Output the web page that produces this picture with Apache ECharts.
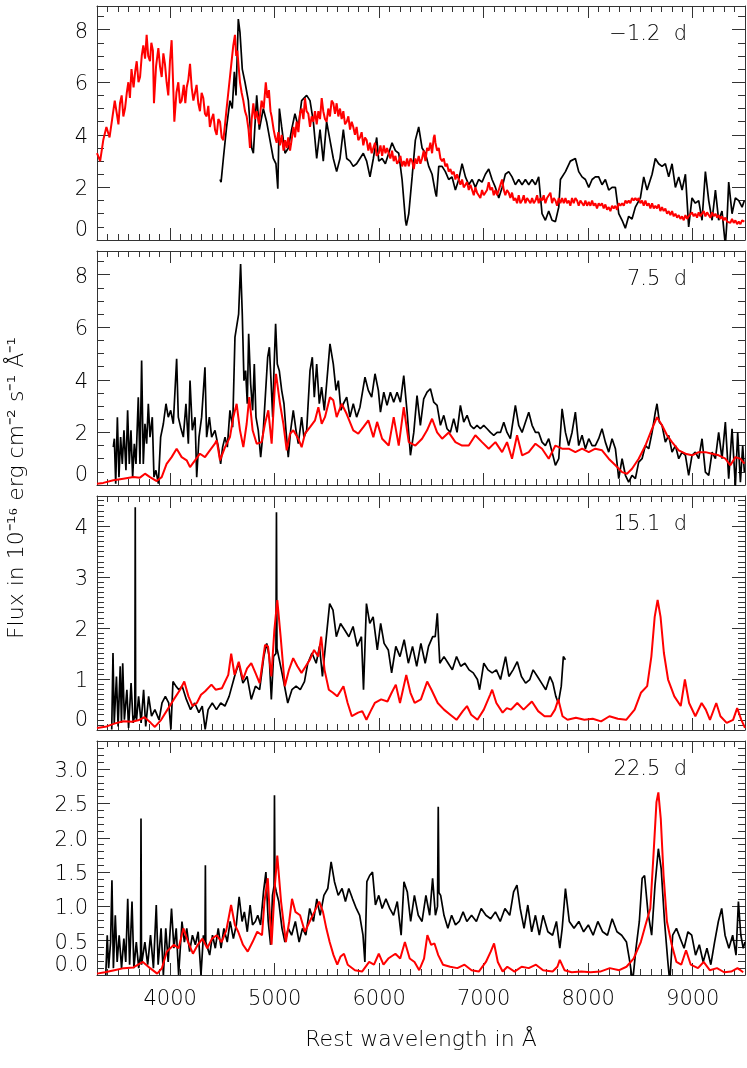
<!DOCTYPE html>
<html><head><meta charset="utf-8">
<script src="https://cdn.jsdelivr.net/npm/echarts@6/dist/echarts.min.js"></script>
<style>html,body{margin:0;padding:0;background:#fff}#c{width:747px;height:1068px}</style>
</head><body><div id="c"></div>
<script>
// ---------- axis / label data ----------
const xMin = 3300, xMax = 9500;
const xMajorTicks = [4000, 5000, 6000, 7000, 8000, 9000];
const xMinorStep = 100;
const epochLabels = ['\u22121.2  d', '7.5  d', '15.1  d', '22.5  d'];
const yMaxes = [8.9, 8.9, 4.59, 3.41];
const yMajorTicks = [[0, 2, 4, 6, 8], [0, 2, 4, 6, 8], [0, 1, 2, 3, 4], [0, 0.5, 1, 1.5, 2, 2.5, 3]];
const yMinorSteps = [0.5, 0.5, 0.1, 0.1];
const yDecimals = [0, 0, 0, 1];
const xTitle = 'Rest wavelength in \u00C5';
const yTitle = 'Flux in 10\u207B\u00B9\u2076 erg cm\u207B\u00B2 s\u207B\u00B9 \u00C5\u207B\u00B9';

// ---------- spectra: [wavelength (Å), flux] ----------
const p1Red = [[3300,3.3],[3330,3.0],[3360,3.8],[3390,4.3],[3420,3.9],[3445,4.6],[3470,5.3],[3490,4.8],[3505,4.4],[3520,5.2],[3536,5.5],[3552,4.7],[3568,5.0],[3585,5.6],[3600,6.0],[3615,5.4],[3630,6.5],[3650,5.8],[3665,6.4],[3680,6.8],[3697,6.0],[3712,6.2],[3728,7.0],[3743,7.4],[3760,6.9],[3775,7.8],[3790,7.0],[3807,6.8],[3820,7.5],[3835,7.2],[3845,5.2],[3865,6.6],[3887,7.3],[3903,6.6],[3919,6.2],[3935,7.1],[3950,6.7],[3966,6.0],[3982,5.5],[3998,6.8],[4014,7.6],[4028,6.0],[4040,4.5],[4060,5.6],[4078,6.0],[4094,5.2],[4110,5.3],[4130,5.9],[4145,5.2],[4158,5.8],[4174,6.1],[4190,6.7],[4206,5.8],[4222,5.3],[4238,5.6],[4253,5.9],[4269,5.2],[4285,4.9],[4301,5.6],[4317,5.4],[4333,4.8],[4349,4.7],[4365,5.1],[4380,4.3],[4397,4.6],[4413,4.8],[4429,4.2],[4445,4.0],[4461,4.6],[4477,4.5],[4493,3.9],[4509,3.8],[4525,4.4],[4540,5.0],[4556,5.6],[4572,6.2],[4588,6.8],[4604,7.4],[4620,7.8],[4632,7.0],[4643,7.2],[4655,6.6],[4668,6.0],[4684,5.6],[4700,5.3],[4716,4.9],[4732,4.7],[4750,4.2],[4764,3.5],[4780,4.6],[4796,5.2],[4812,4.6],[4828,4.9],[4850,4.4],[4875,5.3],[4895,5.0],[4915,6.0],[4930,5.4],[4945,5.7],[4960,4.9],[4971,4.7],[4990,4.2],[5005,3.9],[5019,3.7],[5035,4.1],[5050,3.6],[5067,4.0],[5085,3.4],[5100,3.8],[5115,3.5],[5130,3.9],[5147,3.4],[5162,3.8],[5180,4.3],[5195,3.9],[5210,4.5],[5227,4.1],[5242,4.8],[5258,5.0],[5275,4.6],[5290,5.4],[5305,4.9],[5322,4.8],[5338,4.3],[5354,4.7],[5370,4.5],[5386,4.9],[5402,4.4],[5418,4.9],[5434,4.6],[5450,5.4],[5465,4.9],[5481,4.6],[5497,4.5],[5513,5.0],[5529,4.7],[5545,5.3],[5561,5.2],[5577,4.8],[5593,5.2],[5609,4.7],[5625,5.0],[5641,4.6],[5657,4.9],[5673,4.4],[5689,4.5],[5705,4.7],[5721,4.2],[5737,4.5],[5752,4.3],[5768,4.0],[5784,4.3],[5800,3.8],[5816,3.9],[5832,4.1],[5848,3.6],[5864,3.9],[5880,3.8],[5896,3.4],[5912,3.7],[5928,3.3],[5944,3.5],[5960,3.7],[5976,3.2],[5996,3.3],[6012,3.6],[6028,3.2],[6044,3.6],[6060,3.3],[6075,3.5],[6091,3.5],[6107,3.1],[6123,3.4],[6139,3.0],[6155,3.2],[6171,2.9],[6187,3.0],[6203,3.2],[6219,2.8],[6235,3.0],[6251,2.8],[6267,3.1],[6283,2.8],[6299,3.1],[6315,3.0],[6331,2.7],[6346,3.1],[6362,2.9],[6378,3.2],[6394,2.9],[6410,3.1],[6426,3.4],[6442,3.0],[6458,3.5],[6474,3.4],[6490,3.7],[6506,3.3],[6522,3.9],[6530,4.0],[6538,3.7],[6554,3.4],[6570,3.5],[6586,3.1],[6602,3.0],[6618,3.1],[6633,2.8],[6649,2.9],[6665,2.6],[6681,2.7],[6697,2.5],[6713,2.6],[6729,2.3],[6745,2.5],[6761,2.3],[6777,2.1],[6793,2.3],[6809,2.0],[6825,2.0],[6841,2.2],[6857,1.9],[6873,2.1],[6889,1.9],[6905,1.7],[6920,2.0],[6936,1.8],[6952,1.8],[6968,1.6],[6984,1.9],[7000,1.7],[7016,1.7],[7032,1.9],[7048,2.2],[7064,1.9],[7080,2.0],[7096,1.7],[7112,1.9],[7128,1.7],[7144,1.9],[7160,2.1],[7176,2.3],[7192,1.9],[7207,1.7],[7223,1.9],[7239,1.8],[7255,1.6],[7271,1.8],[7287,1.5],[7303,1.6],[7319,1.4],[7335,1.7],[7351,1.4],[7367,1.5],[7383,1.7],[7399,1.4],[7415,1.6],[7431,1.6],[7447,1.4],[7463,1.6],[7479,1.4],[7495,1.5],[7511,1.7],[7526,1.4],[7542,1.6],[7558,1.5],[7574,1.7],[7590,1.4],[7606,1.6],[7622,1.6],[7638,1.8],[7654,1.4],[7670,1.6],[7686,1.5],[7702,1.3],[7718,1.6],[7734,1.4],[7750,1.6],[7766,1.4],[7782,1.6],[7797,1.4],[7813,1.5],[7829,1.3],[7845,1.6],[7861,1.4],[7877,1.6],[7893,1.5],[7909,1.3],[7925,1.5],[7941,1.5],[7957,1.3],[7973,1.5],[7989,1.3],[8005,1.45],[8021,1.3],[8037,1.5],[8052,1.3],[8068,1.4],[8084,1.2],[8100,1.4],[8116,1.3],[8132,1.4],[8148,1.2],[8164,1.35],[8180,1.15],[8196,1.25],[8212,1.1],[8228,1.3],[8244,1.2],[8260,1.3],[8276,1.15],[8292,1.4],[8308,1.3],[8324,1.4],[8340,1.3],[8356,1.5],[8371,1.4],[8387,1.5],[8403,1.4],[8419,1.6],[8435,1.5],[8451,1.6],[8467,1.5],[8483,1.6],[8499,1.4],[8515,1.5],[8531,1.3],[8547,1.5],[8563,1.3],[8579,1.4],[8595,1.2],[8611,1.4],[8627,1.2],[8642,1.3],[8658,1.2],[8674,1.35],[8690,1.1],[8706,1.25],[8722,1.1],[8738,1.2],[8754,1.0],[8770,1.1],[8786,0.95],[8802,1.1],[8818,0.9],[8834,1.0],[8850,0.85],[8866,0.95],[8882,0.8],[8898,0.9],[8914,0.75],[8930,0.95],[8946,0.8],[8961,0.9],[8977,0.85],[8993,1.05],[9009,0.9],[9025,1.0],[9041,0.85],[9057,1.05],[9073,0.9],[9089,0.95],[9105,1.1],[9121,0.9],[9137,1.05],[9153,1.0],[9169,0.85],[9185,1.05],[9201,0.9],[9217,1.0],[9233,0.85],[9248,0.95],[9264,0.8],[9280,0.9],[9296,0.75],[9312,0.85],[9328,0.7],[9344,0.75],[9360,0.65],[9376,0.8],[9392,0.65],[9408,0.75],[9424,0.6],[9440,0.7],[9456,0.6],[9472,0.75],[9494,0.7]];

const p1Black = [[4477,2.3],[4487,2.2],[4509,3.1],[4540,4.3],[4572,5.3],[4594,5.0],[4614,6.4],[4630,5.5],[4652,8.4],[4668,7.9],[4690,6.5],[4716,6.0],[4748,5.3],[4780,3.5],[4796,3.3],[4828,5.5],[4853,4.2],[4891,5.0],[4923,4.5],[4955,3.8],[4987,3.1],[5012,2.9],[5030,1.95],[5045,5.0],[5067,4.3],[5099,3.3],[5131,3.5],[5162,4.2],[5194,4.8],[5226,4.3],[5258,5.3],[5306,5.5],[5338,5.3],[5370,4.5],[5402,3.1],[5434,4.2],[5465,3.0],[5497,4.5],[5529,3.8],[5561,3.1],[5593,2.6],[5625,3.1],[5657,4.2],[5689,3.1],[5721,3.0],[5752,2.8],[5784,2.9],[5816,3.1],[5848,3.3],[5880,3.0],[5912,2.4],[5944,3.1],[5976,3.9],[5996,3.0],[6028,3.1],[6059,2.9],[6091,3.3],[6123,3.7],[6155,3.4],[6187,3.3],[6219,2.3],[6251,0.75],[6260,0.55],[6283,1.0],[6315,2.4],[6346,3.8],[6378,4.3],[6410,3.5],[6442,3.3],[6474,2.8],[6506,2.5],[6538,1.8],[6548,1.65],[6570,2.8],[6602,2.8],[6633,2.6],[6665,2.3],[6697,2.4],[6729,1.9],[6761,2.3],[6793,2.9],[6825,2.4],[6857,2.1],[6889,2.3],[6920,2.0],[6952,2.3],[6984,2.2],[7016,2.5],[7048,2.7],[7080,2.3],[7112,2.0],[7144,1.6],[7176,2.0],[7207,2.5],[7239,2.6],[7271,2.4],[7303,2.1],[7335,2.3],[7367,2.1],[7399,2.3],[7431,2.1],[7463,2.3],[7495,2.1],[7526,2.4],[7558,1.0],[7590,0.75],[7622,1.1],[7654,0.75],[7686,0.7],[7718,1.25],[7734,2.3],[7782,2.6],[7829,3.0],[7877,3.1],[7909,2.6],[7941,2.4],[7973,2.3],[8005,2.0],[8037,2.3],[8068,2.4],[8100,2.4],[8132,2.1],[8164,2.3],[8196,1.9],[8228,2.0],[8260,2.0],[8292,1.0],[8324,0.75],[8355,0.45],[8387,0.9],[8419,0.8],[8451,1.25],[8499,1.6],[8531,2.4],[8563,1.9],[8611,2.5],[8642,3.1],[8674,2.9],[8706,2.8],[8738,2.9],[8770,2.4],[8802,2.9],[8834,2.0],[8866,2.4],[8898,1.9],[8930,2.5],[8961,0.5],[8993,1.6],[9025,1.4],[9057,1.5],[9089,0.75],[9121,2.6],[9153,1.5],[9185,0.75],[9217,1.9],[9248,0.75],[9280,1.1],[9312,-0.2],[9328,0.75],[9344,2.2],[9376,1.0],[9408,1.6],[9440,1.5],[9472,1.25],[9494,1.5]];

const p2Red = [[3300,0.05],[3360,0.08],[3456,0.18],[3552,0.24],[3648,0.3],[3711,0.28],[3759,0.43],[3807,0.3],[3871,0.15],[3887,0.1],[3919,0.3],[3966,0.8],[4014,1.06],[4062,1.38],[4110,1.06],[4158,0.94],[4190,0.68],[4238,0.94],[4285,1.19],[4333,1.06],[4380,1.32],[4428,1.57],[4445,1.7],[4477,0.94],[4525,1.44],[4572,1.82],[4604,2.58],[4636,3.09],[4668,2.08],[4700,1.44],[4732,2.33],[4757,3.34],[4789,2.08],[4828,1.57],[4875,1.63],[4907,2.33],[4939,2.84],[4971,1.57],[5003,3.85],[5013,4.23],[5051,3.09],[5083,2.33],[5115,1.32],[5147,1.95],[5178,2.08],[5226,1.76],[5258,1.44],[5290,1.95],[5338,2.2],[5386,2.46],[5418,2.96],[5450,2.33],[5481,2.58],[5529,3.34],[5561,3.22],[5593,2.58],[5641,3.09],[5689,2.7],[5752,2.08],[5800,1.95],[5848,2.2],[5896,2.46],[5944,1.82],[5980,2.4],[6028,1.76],[6091,1.5],[6139,2.58],[6187,1.5],[6235,2.96],[6283,1.63],[6346,1.5],[6410,1.76],[6458,2.08],[6506,2.52],[6554,2.0],[6602,1.76],[6665,2.0],[6729,1.63],[6793,1.5],[6857,1.5],[6920,1.89],[6984,1.63],[7048,1.38],[7112,1.63],[7176,1.25],[7223,1.63],[7271,1.0],[7319,1.89],[7367,1.13],[7431,1.25],[7495,1.57],[7558,1.38],[7622,1.0],[7686,1.5],[7750,1.38],[7813,1.38],[7877,1.25],[7941,1.38],[8005,1.25],[8068,1.38],[8132,1.32],[8196,1.0],[8260,0.75],[8324,0.49],[8371,0.43],[8419,0.62],[8483,1.0],[8547,1.5],[8611,2.14],[8658,2.58],[8706,2.27],[8754,1.89],[8802,1.63],[8866,1.32],[8930,1.19],[8993,1.13],[9057,1.25],[9121,1.25],[9185,1.19],[9248,1.13],[9312,1.0],[9360,0.75],[9408,1.06],[9456,1.0],[9494,0.81]];

const p2Black = [[3456,1.44],[3466,1.76],[3479,0.05],[3495,2.58],[3510,0.3],[3526,1.82],[3542,0.8],[3558,2.08],[3577,0.56],[3593,2.84],[3609,0.8],[3625,2.08],[3641,0.3],[3657,1.57],[3673,0.8],[3695,3.34],[3711,0.8],[3727,4.73],[3743,0.8],[3759,2.33],[3775,1.57],[3791,3.09],[3807,1.82],[3829,2.58],[3845,0.3],[3864,0.56],[3887,0.05],[3909,1.82],[3935,2.33],[3960,3.09],[3982,2.58],[4005,2.84],[4030,2.33],[4062,4.8],[4078,2.58],[4100,2.2],[4126,1.82],[4151,3.09],[4174,1.57],[4190,3.97],[4212,2.08],[4238,2.58],[4254,0.3],[4276,1.82],[4301,2.58],[4333,4.48],[4349,1.82],[4375,2.58],[4397,1.82],[4429,2.08],[4461,1.44],[4483,0.8],[4502,1.44],[4525,1.82],[4547,1.44],[4572,2.84],[4598,2.2],[4620,5.62],[4636,5.62],[4655,6.5],[4674,8.4],[4690,6.5],[4706,3.97],[4722,4.35],[4738,3.09],[4751,5.75],[4770,3.85],[4789,2.84],[4805,4.6],[4821,2.58],[4843,2.08],[4866,1.06],[4891,2.08],[4914,3.6],[4933,4.86],[4949,5.24],[4965,3.97],[4981,2.58],[4993,4.35],[5009,6.13],[5025,4.6],[5044,4.35],[5067,3.6],[5089,3.09],[5108,2.08],[5130,1.06],[5153,2.08],[5178,2.84],[5204,2.08],[5226,1.57],[5258,2.58],[5280,1.82],[5306,2.08],[5338,4.35],[5360,4.86],[5379,3.34],[5402,4.6],[5427,3.09],[5449,3.72],[5475,2.84],[5497,3.85],[5529,5.37],[5561,4.6],[5587,3.6],[5609,3.97],[5634,2.84],[5657,3.09],[5689,3.34],[5720,2.58],[5752,3.09],[5784,2.58],[5816,2.96],[5864,4.1],[5896,3.6],[5928,3.34],[5960,4.23],[5992,3.6],[6012,2.77],[6044,3.53],[6075,3.03],[6107,3.53],[6139,3.15],[6171,3.53],[6203,3.15],[6235,4.16],[6267,2.77],[6299,1.13],[6331,2.0],[6362,3.4],[6394,2.27],[6426,3.28],[6458,3.53],[6490,3.66],[6522,3.15],[6554,3.03],[6586,2.27],[6618,2.65],[6649,2.14],[6681,2.0],[6713,2.52],[6745,2.0],[6777,3.03],[6809,2.39],[6841,2.65],[6873,2.27],[6905,2.14],[6936,2.27],[6968,2.14],[7000,2.27],[7032,2.14],[7064,2.0],[7096,1.89],[7128,2.0],[7160,2.0],[7192,2.39],[7223,2.0],[7255,1.76],[7303,3.03],[7335,2.27],[7367,2.0],[7399,2.39],[7431,2.77],[7463,2.27],[7495,2.0],[7526,2.0],[7558,1.63],[7590,1.5],[7622,1.76],[7654,1.25],[7686,0.75],[7718,1.0],[7750,2.9],[7782,2.0],[7813,1.5],[7845,2.0],[7877,2.77],[7909,1.5],[7941,1.89],[7973,1.38],[8005,1.76],[8037,1.5],[8068,1.5],[8100,1.76],[8132,2.14],[8164,1.63],[8196,1.25],[8228,1.76],[8260,1.38],[8292,0.24],[8324,1.0],[8356,0.37],[8387,0.11],[8419,0.37],[8451,0.24],[8483,0.87],[8515,1.0],[8547,1.5],[8579,1.38],[8611,2.0],[8642,2.77],[8658,3.09],[8681,2.39],[8706,2.27],[8738,1.63],[8770,1.89],[8802,1.25],[8834,1.5],[8866,1.0],[8898,1.25],[8930,1.13],[8961,0.37],[8993,1.13],[9025,1.25],[9057,1.0],[9089,1.76],[9121,0.49],[9153,0.37],[9185,1.25],[9217,1.0],[9248,2.0],[9280,1.0],[9312,2.39],[9344,0.24],[9376,2.14],[9408,-0.05],[9430,2.0],[9456,0.11],[9478,1.5],[9494,0.49]];

const p3Red = [[3300,0.04],[3393,0.07],[3473,0.13],[3554,0.17],[3634,0.16],[3694,0.19],[3754,0.25],[3814,0.14],[3854,0.06],[3914,0.2],[3974,0.4],[4035,0.6],[4095,0.79],[4135,0.95],[4175,0.66],[4215,0.47],[4255,0.53],[4295,0.69],[4335,0.76],[4395,0.89],[4435,0.79],[4495,0.82],[4556,1.08],[4584,1.5],[4616,1.08],[4656,1.34],[4696,0.99],[4736,1.21],[4776,1.31],[4816,1.12],[4856,0.92],[4908,1.67],[4936,1.64],[4968,1.05],[4997,1.96],[5025,2.55],[5057,1.83],[5097,0.86],[5137,1.18],[5177,1.41],[5217,1.25],[5257,1.12],[5297,1.25],[5337,1.38],[5377,1.57],[5417,1.44],[5445,1.83],[5477,1.18],[5518,0.79],[5558,0.73],[5598,0.66],[5658,0.86],[5698,0.53],[5738,0.27],[5798,0.34],[5838,0.37],[5878,0.2],[5918,0.37],[5958,0.53],[6019,0.6],[6079,0.56],[6119,0.73],[6159,0.89],[6199,0.53],[6259,1.08],[6299,0.73],[6339,0.53],[6399,0.6],[6459,0.95],[6500,0.79],[6560,0.53],[6620,0.4],[6680,0.3],[6740,0.2],[6800,0.37],[6840,0.47],[6880,0.3],[6940,0.2],[7001,0.4],[7061,0.69],[7081,0.79],[7121,0.53],[7181,0.34],[7221,0.43],[7261,0.4],[7321,0.53],[7381,0.4],[7461,0.56],[7521,0.37],[7582,0.27],[7642,0.27],[7682,0.4],[7714,0.6],[7754,0.27],[7802,0.2],[7882,0.24],[7963,0.2],[8043,0.22],[8123,0.17],[8203,0.27],[8283,0.22],[8363,0.2],[8444,0.4],[8504,0.73],[8564,0.86],[8604,1.44],[8636,2.22],[8664,2.55],[8692,2.22],[8724,1.51],[8764,0.99],[8824,0.66],[8885,0.47],[8925,0.99],[8965,0.53],[9025,0.27],[9085,0.53],[9125,0.4],[9165,0.2],[9225,0.53],[9265,0.27],[9325,0.14],[9386,0.2],[9425,0.43],[9465,0.2],[9500,0.04]];

const p3Black = [[3441,0.01],[3453,1.51],[3465,0.14],[3486,1.05],[3502,0.07],[3522,1.25],[3534,0.14],[3546,1.31],[3562,0.2],[3586,0.79],[3602,0.04],[3626,0.92],[3646,0.14],[3662,0.3],[3666,4.37],[3670,0.3],[3678,0.2],[3698,0.66],[3722,0.14],[3746,0.79],[3766,0.07],[3794,0.66],[3822,0.27],[3854,0.4],[3894,0.2],[3922,0.53],[3954,0.66],[3986,0.53],[4007,0.01],[4027,0.95],[4055,0.86],[4083,0.79],[4115,0.86],[4155,0.6],[4195,0.4],[4235,0.53],[4275,0.34],[4307,0.47],[4335,0.01],[4363,0.4],[4403,0.53],[4443,0.4],[4484,0.53],[4524,0.47],[4564,0.66],[4616,1.05],[4656,1.31],[4696,0.92],[4736,1.05],[4776,0.6],[4816,0.86],[4856,0.79],[4896,1.44],[4924,1.7],[4948,1.44],[4968,0.6],[4989,1.44],[5012,1.5],[5017,4.27],[5022,1.6],[5037,1.57],[5077,1.05],[5125,0.53],[5165,0.79],[5205,0.86],[5245,0.79],[5285,0.95],[5317,1.31],[5357,1.51],[5397,1.31],[5429,1.64],[5457,1.05],[5485,1.64],[5526,2.48],[5558,2.35],[5590,1.83],[5630,2.09],[5670,1.96],[5710,1.83],[5750,2.03],[5790,1.64],[5830,1.83],[5850,0.79],[5878,2.48],[5910,2.09],[5942,2.22],[5982,1.57],[6014,2.09],[6047,1.7],[6087,1.57],[6119,1.12],[6159,1.64],[6199,1.44],[6239,1.77],[6279,1.31],[6319,1.64],[6359,1.25],[6399,1.7],[6440,1.31],[6472,1.64],[6512,1.83],[6536,1.83],[6556,2.29],[6580,1.31],[6620,1.44],[6660,1.31],[6700,1.18],[6740,1.44],[6780,1.25],[6820,1.31],[6860,1.18],[6900,1.12],[6940,0.99],[6961,0.79],[7001,1.31],[7041,1.18],[7081,1.12],[7121,1.18],[7161,0.99],[7209,1.44],[7241,1.05],[7281,1.18],[7321,1.34],[7361,1.05],[7401,0.92],[7441,0.99],[7473,1.18],[7514,1.05],[7554,0.92],[7594,0.79],[7634,1.05],[7662,0.92],[7690,0.66],[7714,0.53],[7742,0.86],[7762,1.44],[7782,1.38]];

const p4Red = [[3300,0.02],[3375,0.04],[3466,0.07],[3557,0.1],[3648,0.11],[3739,0.19],[3808,0.1],[3876,0.02],[3922,0.1],[3967,0.34],[4036,0.44],[4081,0.39],[4127,0.68],[4172,0.48],[4218,0.31],[4264,0.44],[4309,0.53],[4355,0.39],[4400,0.53],[4446,0.58],[4492,0.48],[4537,0.65],[4583,1.02],[4619,0.73],[4651,0.63],[4697,0.44],[4742,0.34],[4788,0.48],[4833,0.63],[4879,0.58],[4902,1.07],[4934,1.41],[4970,0.44],[5002,1.31],[5025,1.74],[5061,1.07],[5107,0.48],[5139,0.78],[5166,1.11],[5198,0.92],[5243,0.87],[5289,0.63],[5335,0.78],[5380,0.92],[5426,1.07],[5462,0.92],[5494,0.68],[5526,0.48],[5563,0.29],[5599,0.15],[5631,0.27],[5663,0.31],[5699,0.15],[5768,0.07],[5836,0.05],[5904,0.19],[5950,0.15],[5996,0.31],[6041,0.15],[6087,0.24],[6155,0.31],[6201,0.24],[6246,0.48],[6292,0.24],[6338,0.19],[6383,0.07],[6429,0.24],[6461,0.58],[6497,0.44],[6529,0.46],[6565,0.29],[6611,0.15],[6679,0.12],[6748,0.1],[6816,0.15],[6884,0.07],[6953,0.05],[7021,0.19],[7067,0.34],[7099,0.46],[7135,0.19],[7181,0.05],[7226,0.12],[7295,0.05],[7363,0.12],[7431,0.1],[7500,0.15],[7568,0.07],[7659,0.05],[7705,0.12],[7728,0.22],[7773,0.07],[7842,0.04],[7933,0.05],[8024,0.04],[8115,0.05],[8206,0.1],[8297,0.07],[8366,0.12],[8434,0.24],[8503,0.48],[8548,0.73],[8594,0.97],[8626,1.79],[8653,2.52],[8671,2.66],[8694,2.28],[8721,1.45],[8753,0.78],[8799,0.44],[8844,0.19],[8890,0.15],[8936,0.36],[8981,0.15],[9050,0.1],[9104,0.19],[9163,0.07],[9232,0.1],[9300,0.04],[9368,0.05],[9428,0.1],[9483,0.04]];

const p4Black = [[3384,0],[3398,0.58],[3411,0.1],[3430,0.48],[3443,1.38],[3457,0.1],[3475,0.87],[3493,0.19],[3512,0.58],[3535,0.1],[3557,0.53],[3575,0.19],[3594,1.11],[3612,0.15],[3635,1.07],[3653,0.1],[3676,0.48],[3699,0.1],[3717,0.3],[3721,2.28],[3726,0.15],[3758,0.48],[3785,0.15],[3812,0.58],[3840,0.1],[3867,1.02],[3885,0.15],[3913,0.68],[3935,0],[3958,0.68],[3981,0.19],[4013,0.97],[4036,0.39],[4058,0.68],[4081,0],[4113,0.78],[4136,0.48],[4159,0.68],[4186,0.34],[4213,0.58],[4241,0.44],[4268,0.63],[4295,0],[4318,0.58],[4333,0.5],[4337,1.6],[4341,0.48],[4378,0.29],[4405,0.58],[4432,0.39],[4460,0.68],[4487,0.39],[4514,0.68],[4546,0.48],[4574,0.78],[4605,0.53],[4633,0.73],[4660,1.14],[4688,0.78],[4710,0.92],[4738,0.63],[4765,1.02],[4788,0.73],[4815,0.78],[4838,0.87],[4865,0.73],[4893,1.21],[4916,1.5],[4938,0.78],[4961,0.44],[4979,1.16],[4994,1.3],[4998,2.62],[5003,1.3],[5016,1.21],[5039,1.07],[5070,0.68],[5098,0.48],[5130,0.68],[5162,0.58],[5198,0.78],[5234,0.48],[5266,0.68],[5298,0.58],[5335,0.97],[5371,0.78],[5403,1.11],[5435,0.87],[5471,1.16],[5508,1.26],[5540,1.65],[5572,1.36],[5608,1.16],[5645,1.26],[5677,1.07],[5709,1.26],[5745,1.11],[5781,0.97],[5813,0.87],[5845,0.58],[5863,0.19],[5882,1.36],[5909,1.45],[5936,1.5],[5964,1.02],[5996,1.16],[6028,0.97],[6064,1.11],[6101,0.97],[6137,0.87],[6173,1.07],[6210,0.58],[6237,1.36],[6269,1.21],[6301,0.78],[6337,1.16],[6374,0.87],[6410,0.78],[6447,1.16],[6483,0.87],[6511,1.41],[6538,0.87],[6558,1.0],[6565,2.45],[6572,1.2],[6588,1.16],[6620,0.87],[6657,0.68],[6693,0.87],[6730,0.73],[6766,0.78],[6803,0.92],[6839,0.78],[6884,0.87],[6930,0.78],[6976,0.97],[7021,0.87],[7067,0.82],[7112,0.92],[7158,0.78],[7203,0.97],[7249,0.87],[7286,1.21],[7318,1.31],[7349,0.97],[7386,0.68],[7422,1.02],[7459,0.63],[7495,0.87],[7532,0.58],[7568,0.87],[7614,0.63],[7659,0.58],[7696,0.78],[7728,0.39],[7751,0.68],[7782,1.26],[7819,0.78],[7864,0.68],[7910,0.78],[7956,0.63],[8001,0.73],[8047,0.58],[8092,0.78],[8138,0.63],[8184,0.58],[8229,0.82],[8275,0.63],[8320,0.58],[8366,0.48],[8398,0.19],[8425,-0.1],[8457,0.39],[8489,0.78],[8516,1.41],[8539,1.45],[8571,0.92],[8607,0.58],[8639,1.31],[8671,1.84],[8698,1.55],[8730,0.78],[8762,0.19],[8780,-0.1],[8808,0.58],[8844,0.68],[8881,0.53],[8917,0.39],[8954,0.63],[8990,0.58],[9027,0.29],[9063,0.44],[9100,0.19],[9136,0.39],[9173,0.15],[9209,0.48],[9245,0.78],[9277,0.97],[9309,0.58],[9346,0.39],[9382,0.58],[9414,0.29],[9437,1.07],[9460,0.58],[9483,0.39],[9500,0.48]];

const blackSpectra = [p1Black, p2Black, p3Black, p4Black];
const redSpectra = [p1Red, p2Red, p3Red, p4Red];

// ---------- layout / style ----------
const FONT = 'DejaVu Sans';
const FW = 200;
const FRAME = '#333333';
const TXT = '#000000';
const GRID_LEFT = 97, GRID_W = 648, GRID_H = 234;
const GRID_TOPS = [6, 251, 496, 741];

function stepTicks(lo, hi, step) {
  const out = [];
  const n = Math.round((hi - lo) / step);
  for (let i = 1; i < n + 1; i++) {
    const v = +(lo + i * step).toFixed(4);
    if (v < hi) out.push(v);
  }
  return out;
}
const xMinorTicks = stepTicks(xMin, xMax, xMinorStep);

const grids = [], xAxes = [], yAxes = [], series = [], graphic = [];

function xAxisDef(g, pos, vals, len, labels, line) {
  return {
    type: 'value', gridIndex: g, min: xMin, max: xMax, position: pos,
    axisLine: { show: line, onZero: false, lineStyle: { color: FRAME, width: 1 } },
    axisTick: { show: true, inside: true, length: len, customValues: vals, lineStyle: { color: FRAME, width: 1 } },
    axisLabel: labels ? {
      show: true, customValues: vals, margin: 14, color: TXT, fontSize: 21, fontFamily: FONT, fontWeight: FW,
      formatter: function (v) { return String(Math.round(v)); }
    } : { show: false },
    splitLine: { show: false }
  };
}
function yAxisDef(g, pos, vals, len, labels, line) {
  const dec = yDecimals[g];
  return {
    type: 'value', gridIndex: g, min: 0, max: yMaxes[g], position: pos,
    axisLine: { show: line, onZero: false, lineStyle: { color: FRAME, width: 1 } },
    axisTick: { show: true, inside: true, length: len, customValues: vals, lineStyle: { color: FRAME, width: 1 } },
    axisLabel: labels ? {
      show: true, customValues: vals, margin: 9, color: TXT, fontSize: 21, fontFamily: FONT, fontWeight: FW,
      formatter: function (v) {
        const t = Number(v).toFixed(dec);
        return Number(v) === 0 ? '{z|' + t + '}' : '{n|' + t + '}';
      },
      rich: {
        z: { fontSize: 21, fontFamily: FONT, fontWeight: FW, color: TXT, padding: [0, 0, 18, 0] },
        n: { fontSize: 21, fontFamily: FONT, fontWeight: FW, color: TXT, padding: [5, 0, 0, 0] }
      }
    } : { show: false },
    splitLine: { show: false }
  };
}

for (let g = 0; g < 4; g++) {
  grids.push({ left: GRID_LEFT, top: GRID_TOPS[g], width: GRID_W, height: GRID_H, containLabel: false });
  const last = g === 3;
  xAxes.push(xAxisDef(g, 'bottom', xMajorTicks, 12, last, true));
  xAxes.push(xAxisDef(g, 'bottom', xMinorTicks, 6, false, false));
  xAxes.push(xAxisDef(g, 'top', xMajorTicks, 12, false, true));
  xAxes.push(xAxisDef(g, 'top', xMinorTicks, 6, false, false));
  const yMinor = stepTicks(0, yMaxes[g], yMinorSteps[g]);
  yAxes.push(yAxisDef(g, 'left', yMajorTicks[g], 13, true, true));
  yAxes.push(yAxisDef(g, 'left', yMinor, 7, false, false));
  yAxes.push(yAxisDef(g, 'right', yMajorTicks[g], 13, false, true));
  yAxes.push(yAxisDef(g, 'right', yMinor, 7, false, false));

  series.push({
    type: 'line', xAxisIndex: g * 4, yAxisIndex: g * 4, data: blackSpectra[g],
    showSymbol: false, symbol: 'none', clip: true, silent: true,
    lineStyle: { color: '#000000', width: 1.7 }, z: 2
  });
  series.push({
    type: 'line', xAxisIndex: g * 4, yAxisIndex: g * 4, data: redSpectra[g],
    showSymbol: false, symbol: 'none', clip: true, silent: true,
    lineStyle: { color: '#ff0000', width: 2 }, z: 3
  });

  graphic.push({
    type: 'text', x: 687, y: GRID_TOPS[g] + 29, z: 10,
    style: { text: epochLabels[g], fill: TXT, font: FW + ' 21px "' + FONT + '"', align: 'right', verticalAlign: 'middle' }
  });
}

graphic.push({
  type: 'text', x: 421, y: 1040, z: 10,
  style: { text: xTitle, fill: TXT, font: FW + ' 22px "' + FONT + '"', align: 'center', verticalAlign: 'middle' }
});
graphic.push({
  type: 'text', x: 17, y: 488, rotation: Math.PI / 2, z: 10,
  style: { text: yTitle, fill: TXT, font: FW + ' 22px "' + FONT + '"', align: 'center', verticalAlign: 'middle' }
});

const chart = echarts.init(document.getElementById('c'), null, { renderer: 'canvas' });
chart.setOption({
  animation: false,
  backgroundColor: '#ffffff',
  grid: grids, xAxis: xAxes, yAxis: yAxes, series: series, graphic: graphic
});
</script></body></html>
